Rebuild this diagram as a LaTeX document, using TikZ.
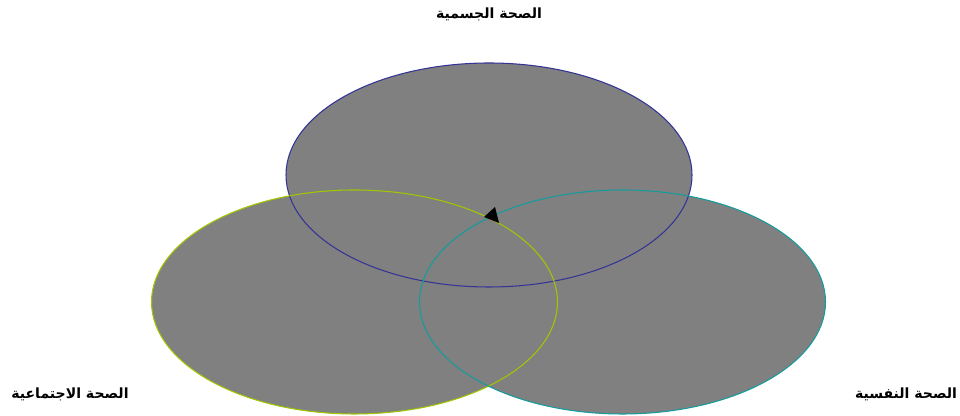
\documentclass[tikz,border=0pt]{standalone}
\usepackage{fontspec}
\newfontfamily\arabicfont[Script=Arabic]{DejaVu Sans}
\TeXXeTstate=1
\usepackage{tikz}
\definecolor{physline}{RGB}{52,52,150}
\definecolor{socline}{RGB}{160,200,0}
\definecolor{psyline}{RGB}{20,155,155}
\tikzset{
  region/.style={fill=gray},
  rim/.style={line width=0.6pt},
  label/.style={font=\arabicfont\bfseries\fontsize{8}{10}\selectfont}
}

\begin{document}
\begin{tikzpicture}
			\useasboundingbox (0,0) rectangle (19.2,8.32);
			% fills first
			\fill[region] (9.78,4.82) ellipse (4.06 and 2.24);
			\fill[region] (7.09,2.28) ellipse (4.06 and 2.24);
			\fill[region] (12.45,2.28) ellipse (4.06 and 2.24);
			% outlines
			\draw[rim,physline] (9.78,4.82) ellipse (4.06 and 2.24);
			\draw[rim,socline] (7.09,2.28) ellipse (4.06 and 2.24);
			\draw[rim,psyline] (12.45,2.28) ellipse (4.06 and 2.24);
			\fill (9.9,4.18) -- (9.68,3.98) -- (9.98,3.86) -- cycle;
			% labels
			\node[label] (phys) at (9.78,8.04) {\beginR الصحة الجسمية\endR};
			\node[label] (soc) at (1.4,0.44) {\beginR الصحة الاجتماعية\endR};
			\node[label] (psy) at (18.12,0.44) {\beginR الصحة النفسية\endR};
		\end{tikzpicture}
\end{document}
